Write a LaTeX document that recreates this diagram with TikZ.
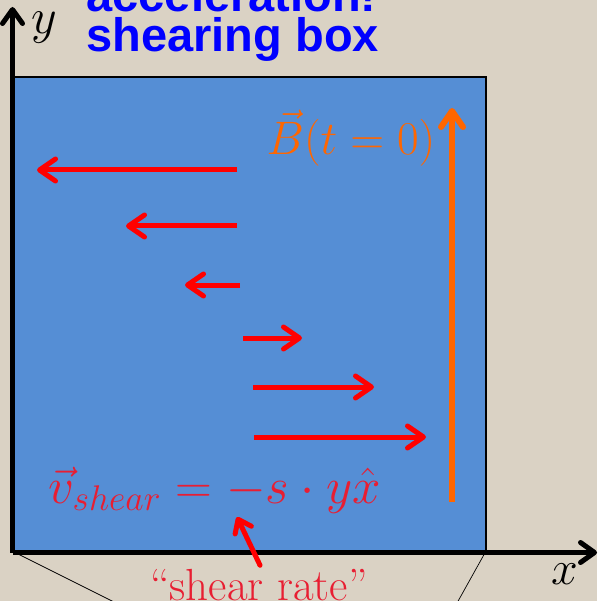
\RequirePackage{fix-cm}
\documentclass[tikz,border=0pt]{standalone}
\usepackage{fontspec}
\newfontfamily\titlefont{Liberation Sans}
\usetikzlibrary{arrows.meta}
\definecolor{paper}{RGB}{218,210,196}
\definecolor{boxblue}{RGB}{85,142,213}
\definecolor{flowred}{RGB}{255,0,0}
\definecolor{labelred}{RGB}{232,30,50}
\definecolor{fieldorange}{RGB}{255,102,0}
\definecolor{titleblue}{RGB}{0,0,255}
\tikzset{
  flow/.style={flowred, line width=5pt, -{Straight Barb[length=16pt,width=22pt,round]}},
  field/.style={fieldorange, line width=6pt, -{Straight Barb[length=16pt,width=22pt,round]}},
  axis/.style={black, line width=5pt, -{Straight Barb[length=14pt,width=20pt,round]}},
  big/.style={font=\fontsize{#1}{#1}\selectfont},
}
\begin{document}
\begin{tikzpicture}[x=1pt, y=-1pt]
\useasboundingbox (0,0) rectangle (597,601);
\fill[paper] (0,0) rectangle (597,601);
% zoom lines from the box corners
\begin{scope}
\clip (0,0) rectangle (597,601);
\draw[line width=0.7pt] (12,551)--(132,611);
\draw[line width=0.7pt] (486,551)--(452,612);
\end{scope}
% the box
\filldraw[fill=boxblue, draw=black, line width=1.8pt] (12,77) rectangle (486,551);
\draw[axis] (12.5,552.5)--(12.5,7);
\node[big=50] (ylab) at (44,28) {$y$};
\draw[axis] (12.5,552.5)--(597,552.5);
\node[big=48] (xlab) at (565,574) {$x$};
% title
\node[titleblue, anchor=base west, font=\titlefont\bfseries\fontsize{47}{47}\selectfont] (accel) at (83,12) {acceleration!};
\node[titleblue, anchor=base west, font=\titlefont\bfseries\fontsize{47}{47}\selectfont] (title) at (83,52) {shearing box};
% shear flow
\draw[flow] (237,170)--(37,170);
\draw[flow] (237,226)--(126,226);
\draw[flow] (240,285)--(185,285);
\draw[flow] (243,338)--(302,338);
\draw[flow] (253,387)--(374,387);
\draw[flow] (254,437)--(426,437);
% field line
\draw[field] (452,502)--(452,108);
\node[fieldorange, anchor=base east, big=47] (bfield) at (439,155) {$\vec B(t=0)$};
\node[labelred, anchor=base west, big=51] (vshear) at (45,503) {$\vec v_{shear}=-s\cdot y\hat x$};
\node[labelred, anchor=base, big=45] (rate) at (259,600) {``shear rate''};
\coordinate (s) at (237,517);
\draw[flowred, line width=5pt, line cap=round, -{Straight Barb[length=12pt,width=18pt,round]}] (rate.north)++(1,0)--(s);
\end{tikzpicture}
\end{document}
